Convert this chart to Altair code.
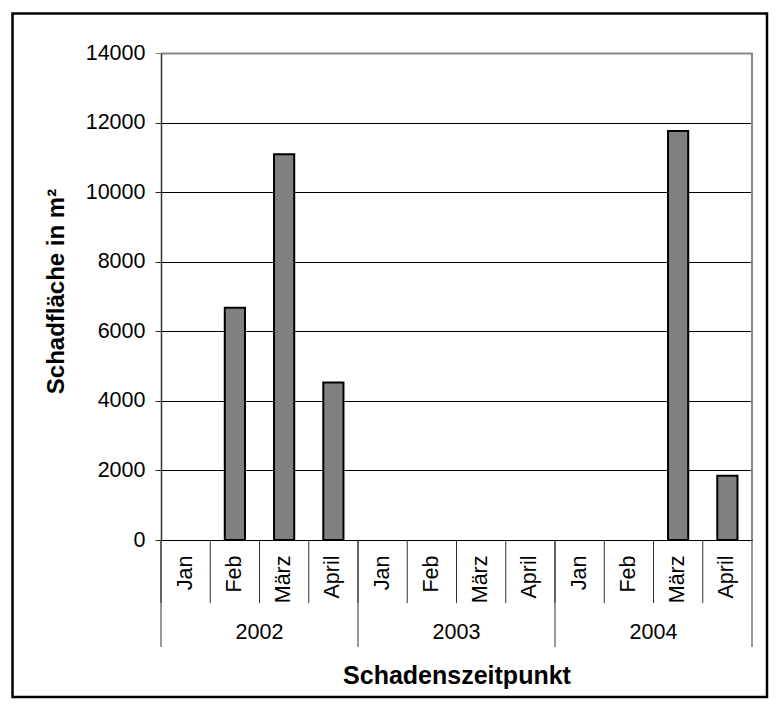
import altair as alt
import pandas as pd

years = ["2002", "2003", "2004"]
months = ["Jan", "Feb", "März", "April"]
values = [0, 6680, 11090, 4530, 0, 0, 0, 0, 0, 0, 11760, 1850]
y_ticks = [0, 2000, 4000, 6000, 8000, 10000, 12000, 14000]

rows = []
i = 0
for yr in years:
    for j, m in enumerate(months):
        rows.append({
            "year": yr, "month": m, "key": f"{yr}|{m}", "value": values[i],
            "first": j == 0, "mid": j == 2, "last": (yr == years[-1] and j == len(months) - 1),
        })
        i += 1
df = pd.DataFrame(rows)
keys = list(df["key"])

W, H = 591, 487
FONT = "Liberation Sans"

xscale = alt.Scale(domain=keys, paddingInner=0, paddingOuter=0)
xaxis = alt.Axis(
    title="Schadenszeitpunkt",
    labelExpr="split(datum.label, '|')[1]",
    labelAngle=-90, labelAlign="right", labelBaseline="middle",
    labelPadding=15, labelFontSize=21.5, labelColor="black", labelFont=FONT,
    ticks=False, tickSize=0, domainColor="black", domainWidth=1.2,
    grid=False,
    titleFontSize=25, titleFontWeight="bold", titleFont=FONT, titleColor="black",
    titleY=143, titleBaseline="alphabetic",
)


def X(bp=None):
    if bp is None:
        return alt.X("key:N", scale=xscale, sort=keys, axis=xaxis)
    return alt.X("key:N", scale=xscale, sort=keys, axis=xaxis, bandPosition=bp)


yaxis = alt.Axis(
    title="Schadfläche in m²", values=y_ticks, format="d",
    labelFontSize=21.5, labelFont=FONT, labelColor="black", labelPadding=10,
    tickSize=6,
    tickColor={"condition": {"test": "datum.value === 14000", "value": "#888888"}, "value": "#222222"},
    domainColor="#333333", domainWidth=1.5,
    grid=True,
    gridColor={"condition": {"test": "datum.value === 14000", "value": "#888888"}, "value": "black"},
    gridWidth={"condition": {"test": "datum.value === 14000", "value": 2}, "value": 1},
    titleFontSize=24, titleFontWeight="bold", titleFont=FONT, titleColor="black",
    titleX=-98, titleY=238, titleBaseline="alphabetic",
)

base = alt.Chart(df)

bars = base.transform_filter("datum.value > 0").mark_bar(
    fill="#808080", stroke="black", strokeWidth=2, width={"band": 0.41}
).encode(
    x=X(),
    y=alt.Y("value:Q", scale=alt.Scale(domain=[0, 14000], nice=False), axis=yaxis),
)

month_sep = base.mark_rule(color="#333333", strokeWidth=1).encode(
    x=X(0), y=alt.value(H), y2=alt.value(H + 63)
)

year_sep = base.transform_filter("datum.first").mark_rule(color="#333333", strokeWidth=1).encode(
    x=X(0), y=alt.value(H), y2=alt.value(H + 107)
)

end_sep = base.transform_filter("datum.last").mark_rule(color="#333333", strokeWidth=1).encode(
    x=X(1), y=alt.value(H), y2=alt.value(H + 107)
)

right_border = base.transform_filter("datum.last").mark_rule(color="#888888", strokeWidth=2).encode(
    x=X(1), y=alt.value(0), y2=alt.value(H)
)

year_labels = base.transform_filter("datum.mid").mark_text(
    fontSize=21.5, font=FONT, color="black", baseline="middle", align="center"
).encode(x=X(0), y=alt.value(580), text="year:N")

frame = alt.Chart(alt.Data(values=[{"a": 1}])).mark_rect(
    fillOpacity=0, stroke="black", strokeWidth=2.5
).encode(
    x=alt.value(-148.5), x2=alt.value(606), y=alt.value(-39.5), y2=alt.value(644)
)

chart = alt.layer(
    bars, month_sep, year_sep, end_sep, right_border, year_labels, frame
).properties(
    width=W, height=H,
    autosize=alt.AutoSizeParams(type="none"),
    padding={"left": 153, "top": 45, "right": 17, "bottom": 163},
    background="white",
).configure_view(stroke="transparent").configure(font=FONT)

chart.save("out.html", embed_options={"renderer": "svg", "actions": False})
